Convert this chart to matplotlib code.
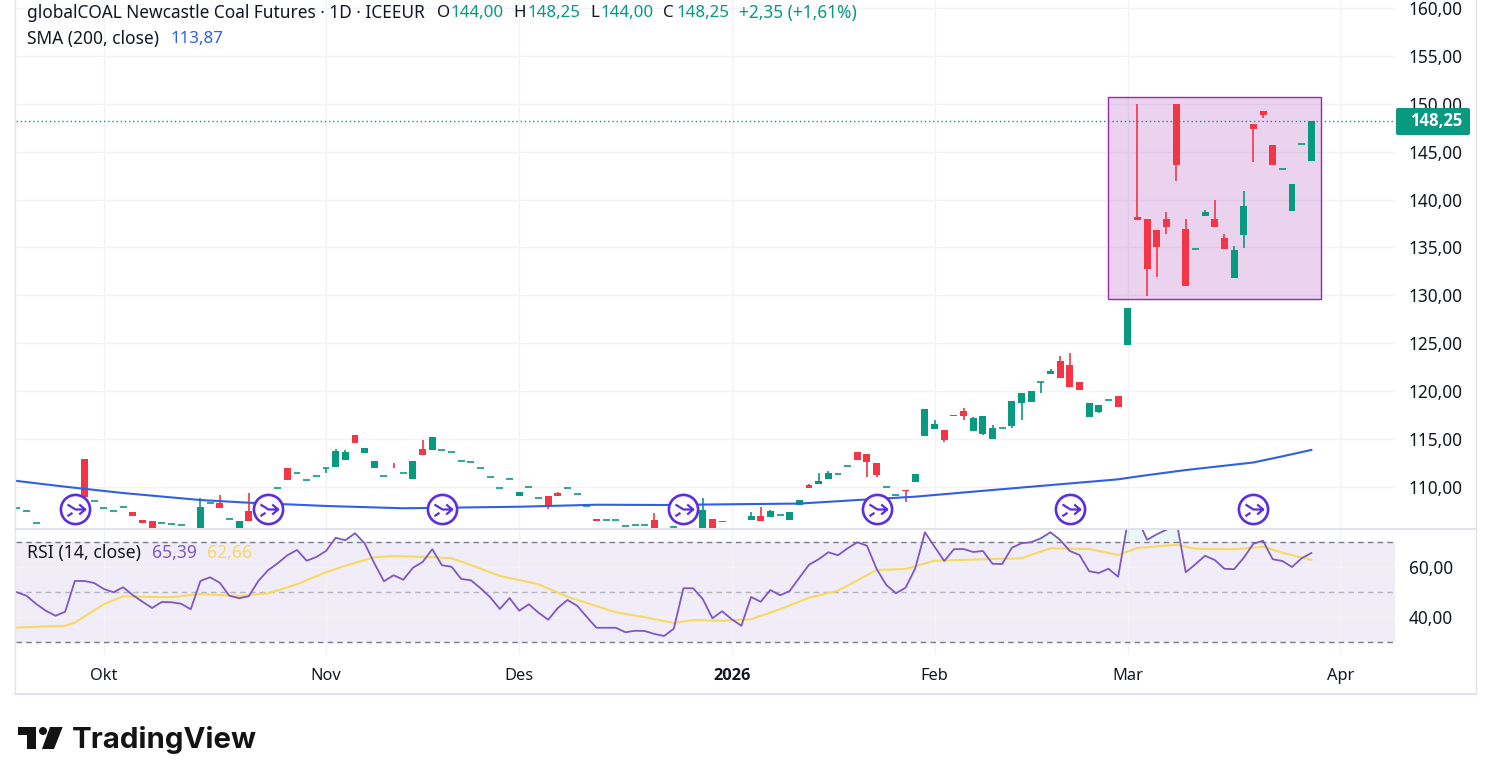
import numpy as np
import matplotlib
matplotlib.use('Agg')
import matplotlib.pyplot as plt
from matplotlib.patches import FancyBboxPatch, Polygon, Rectangle, Circle
from matplotlib.path import Path

plt.rcParams['font.family'] = ['Noto Sans', 'DejaVu Sans']

nan = float('nan')
GREEN = '#089981'
RED = '#f23645'
INK = '#131722'
GRID = '#f2f3f8'
BORDER = '#e0e3eb'
PURPLE = '#7e57c2'
BLUE = '#2f5fe6'
YELLOW = '#f6da63'

# daily bars, gaps are sessions with nothing on screen
opens = [107.78, 107.46, 106.2, nan, nan, nan, nan, 112.9, 108.5, 107.78,
         107.46, 107.9, 107.36, 106.6, 106.4, 106.2, 106.1, 106.0, nan, 105.5,
         108.3, 108.3, 106.65, 105.5, 107.5, nan, nan, 109.9, 112.0, 111.46,
         110.7, 111.2, 111.95, 112.12, 112.85, 115.43, 113.58, 112.0, 111.2, 112.0,
         111.46, 110.85, 113.97, 113.86, 113.83, 113.7, 112.68, 112.58, 111.95, 111.0,
         109.87, 110.8, 109.06, 109.96, 108.9, 109.06, 109.37, 109.87, 109.24, 108.0,
         106.7, 106.52, 106.52, 105.9, 106.0, 106.0, 106.52, nan, 105.8, nan,
         nan, 105.5, 106.66, 106.5, nan, nan, 106.55, 106.97, 106.87, 107.05,
         106.55, 108.16, 110.17, 110.3, 110.85, 111.33, 112.16, 113.65, 113.45, 112.5,
         110.0, 109.13, 109.65, 110.5, 115.32, 116.05, 115.95, 117.5, 117.93, 115.85,
         115.53, 115.0, 116.12, 116.37, 118.8, 118.87, 120.93, 121.8, 123.15, 122.73,
         120.96, 117.3, 117.83, 119.05, 119.5, 124.83, 138.18, 137.97, 136.83, 137.97,
         150.0, 136.93, 134.8, 138.3, 137.97, 136.0, 131.8, 136.3, 147.9, 149.25,
         145.7, 143.16, 138.8, 145.8, 144.0]
highs = [107.78, 107.46, 106.2, nan, nan, nan, nan, 112.9, 108.5, 107.78,
         107.46, 107.9, 107.36, 106.6, 106.4, 106.2, 106.1, 106.0, nan, 108.9,
         108.3, 109.2, 106.65, 106.4, 109.4, nan, nan, 109.9, 112.0, 111.46,
         110.7, 111.2, 111.95, 113.94, 113.9, 115.43, 114.07, 112.68, 111.2, 112.5,
         111.46, 112.7, 114.9, 115.2, 113.83, 113.7, 112.68, 112.58, 111.95, 111.0,
         109.87, 110.8, 109.48, 109.96, 108.9, 109.06, 109.5, 109.87, 109.24, 108.0,
         106.7, 106.52, 106.52, 105.9, 106.0, 106.0, 107.25, nan, 105.8, nan,
         nan, 108.9, 106.66, 106.5, nan, nan, 107.35, 107.87, 107.6, 107.05,
         107.4, 108.63, 110.3, 111.43, 111.67, 111.33, 112.16, 113.65, 113.45, 112.5,
         110.0, 109.13, 109.65, 111.36, 118.14, 117.0, 115.95, 117.5, 118.25, 117.3,
         117.4, 116.47, 116.12, 118.98, 119.8, 120.0, 120.93, 122.3, 123.66, 124.0,
         120.96, 118.77, 118.56, 119.05, 119.5, 128.7, 150.0, 137.97, 136.83, 138.7,
         150.0, 137.97, 134.8, 138.9, 139.96, 136.4, 135.16, 140.9, 147.9, 149.25,
         145.7, 143.16, 141.6, 145.8, 148.25]
lows = [107.78, 107.46, 106.2, nan, nan, nan, nan, 108.95, 108.5, 107.78,
        107.46, 107.9, 107.0, 106.27, 105.75, 106.2, 106.1, 106.0, nan, 105.5,
        108.3, 107.8, 106.65, 105.5, 106.5, nan, nan, 109.9, 110.73, 111.46,
        110.7, 111.2, 111.5, 112.12, 112.85, 114.63, 113.58, 112.0, 111.2, 111.95,
        111.46, 110.85, 113.35, 113.86, 113.83, 113.7, 112.68, 112.58, 111.95, 111.0,
        109.87, 110.8, 109.06, 109.96, 108.9, 107.75, 109.06, 109.87, 109.24, 108.0,
        106.5, 106.52, 106.52, 105.9, 106.0, 106.0, 105.5, nan, 105.8, nan,
        nan, 105.5, 105.5, 106.3, nan, nan, 106.55, 106.45, 106.87, 107.05,
        106.55, 108.16, 109.9, 110.3, 110.85, 111.33, 112.16, 112.8, 111.0, 111.0,
        110.0, 109.13, 108.47, 110.5, 115.32, 116.05, 114.7, 117.45, 117.0, 115.85,
        115.4, 115.0, 116.12, 116.16, 117.0, 118.87, 119.78, 121.8, 121.4, 120.4,
        120.1, 117.3, 117.75, 119.05, 118.35, 124.83, 137.87, 129.97, 131.95, 136.4,
        141.94, 131.0, 134.8, 138.3, 137.14, 134.84, 131.8, 134.95, 143.9, 148.5,
        143.6, 143.16, 138.8, 145.8, 144.0]
closes = [107.78, 107.46, 106.2, nan, nan, nan, nan, 108.95, 108.5, 107.78,
          107.46, 107.9, 107.0, 106.27, 105.75, 106.2, 106.1, 106.0, nan, 107.9,
          108.3, 107.8, 106.65, 106.4, 106.5, nan, nan, 109.9, 110.73, 111.46,
          110.7, 111.2, 111.95, 113.76, 113.65, 114.63, 114.07, 112.68, 111.2, 111.95,
          111.46, 112.7, 113.35, 115.2, 113.83, 113.7, 112.68, 112.58, 111.95, 111.0,
          109.87, 110.8, 109.48, 109.96, 108.9, 108.12, 109.06, 109.87, 109.24, 108.0,
          106.5, 106.52, 106.52, 105.9, 106.0, 106.0, 105.5, nan, 105.8, nan,
          nan, 107.6, 105.5, 106.3, nan, nan, 106.97, 106.45, 107.5, 107.05,
          107.4, 108.63, 109.9, 110.62, 111.43, 111.33, 112.16, 112.8, 112.6, 111.25,
          110.0, 109.13, 109.6, 111.36, 118.14, 116.58, 114.9, 117.45, 117.4, 117.2,
          117.4, 116.16, 116.12, 118.98, 119.8, 120.0, 120.93, 122.1, 121.4, 120.4,
          120.1, 118.77, 118.56, 119.05, 118.35, 128.7, 137.87, 132.76, 135.1, 137.14,
          143.64, 131.0, 134.8, 138.7, 137.14, 134.84, 134.74, 139.3, 147.4, 148.83,
          143.6, 143.16, 141.6, 145.8, 148.25]

sma_bars = [0, 5, 11, 19, 24, 32, 40, 52, 60, 67, 74, 81, 87, 93, 100, 107, 114, 116, 121, 128, 131, 134]
sma_vals = [110.63, 110.03, 109.37, 108.64, 108.36, 108.02, 107.78, 107.94, 108.15, 108.12, 108.2,
            108.27, 108.64, 108.99, 109.6, 110.2, 110.8, 111.1, 111.77, 112.56, 113.2, 113.87]

rsi = [49.7, 48.3, 45.0, 42.3, 40.3, 41.9, 54.2, 54.2, 53.4, 51.0,
       49.7, 51.7, 48.6, 45.9, 43.4, 45.8, 45.7, 45.1, 42.9, 54.2,
       55.7, 53.5, 48.3, 47.3, 48.1, 54.2, 58.5, 61.3, 64.5, 66.6,
       62.3, 63.8, 66.2, 71.5, 70.5, 73.3, 69.3, 61.3, 54.1, 56.5,
       54.7, 59.5, 61.8, 66.9, 60.5, 59.9, 55.0, 54.5, 51.3, 47.7,
       43.0, 47.4, 42.3, 44.9, 41.5, 38.7, 43.4, 46.6, 44.3, 39.8,
       35.5, 35.5, 35.5, 33.7, 34.3, 34.2, 33.0, 32.2, 35.1, 51.3,
       51.3, 47.0, 39.3, 42.1, 38.9, 36.3, 47.8, 45.9, 50.6, 48.5,
       50.2, 55.5, 60.7, 62.9, 65.7, 64.5, 67.3, 69.7, 68.3, 59.0,
       52.6, 49.3, 51.5, 59.3, 73.7, 67.9, 62.2, 66.9, 67.0, 65.8,
       66.2, 61.1, 61.0, 67.5, 69.3, 69.7, 71.3, 73.7, 70.6, 66.2,
       64.6, 58.1, 57.4, 59.1, 55.9, 78.0, 79.0, 70.7, 72.9, 74.7,
       79.0, 57.7, 60.9, 64.3, 62.6, 59.1, 58.9, 63.5, 69.1, 70.3,
       62.9, 62.2, 59.8, 63.3, 65.39]

rsi_ma_bars = [0, 5, 6, 9, 11, 13, 16, 19, 23, 26, 29, 32, 34, 37, 39, 43, 45, 47, 50, 54, 57, 62, 65, 68, 70,
               73, 76, 79, 82, 85, 89, 92, 95, 100, 104, 107, 111, 114, 116, 120, 122, 126, 129, 131, 134]
rsi_ma_vals = [35.6, 36.3, 37.5, 44.9, 48.1, 47.9, 47.7, 49.0, 48.2, 49.3, 52.9, 57.7, 60.3, 63.7, 64.2,
               63.7, 63.3, 60.6, 56.2, 52.9, 47.9, 41.7, 39.7, 37.4, 38.6,
               38.3, 38.9, 42.9, 47.5, 50.3, 58.6, 59.0, 62.3, 62.9, 63.3, 67.3, 67.0, 64.6, 67.4,
               68.7, 67.1, 66.9, 67.9, 65.5, 62.66]

time_bars = [9, 32, 52, 74, 95, 115, 137]
time_labels = ['Okt', 'Nov', 'Des', '2026', 'Feb', 'Mar', 'Apr']
price_ticks = [110, 115, 120, 125, 130, 135, 140, 145, 150, 155, 160]
rsi_ticks = [40, 60]
event_bars = [6, 26, 44, 69, 89, 109, 128]

W, H = 1491, 784
fig = plt.figure(figsize=(W / 100, H / 100), dpi=100)


def pane(x0, y0, x1, y1):
    # axes from pixel corners, y counted from the top
    return fig.add_axes([x0 / W, 1 - y1 / H, (x1 - x0) / W, (y1 - y0) / H])


ax = pane(16, 0, 1395, 528)
ax_rsi = pane(16, 529, 1395, 655)
overlay = pane(0, 0, W, H)
overlay.set_xlim(0, W)
overlay.set_ylim(H, 0)
overlay.axis('off')
overlay.set_zorder(10)

xlim = (-0.09, 142.66)
for a in (ax, ax_rsi):
    a.set_xlim(*xlim)
    a.set_xticks(time_bars)
    a.grid(True, color=GRID, lw=1)
    a.set_axisbelow(True)
    a.yaxis.tick_right()
    for s in a.spines.values():
        s.set_visible(False)

# price pane
ax.set_ylim(105.72, 160.835)
ax.set_yticks(price_ticks)
ax.set_yticklabels(['%d,00' % p for p in price_ticks], fontsize=12.4, color=INK, va='center_baseline')
ax.tick_params(length=0, pad=10, labelbottom=False)

ax.add_patch(Rectangle((113, 129.62), 22, 21.04, facecolor='#9c27b0', alpha=0.2, zorder=1.5, lw=0))
ax.add_patch(Rectangle((113, 129.62), 22, 21.04, fill=False, edgecolor='#9c27b0', lw=1, zorder=1.6))

bars = np.arange(len(closes))
o, h, l, c = np.array(opens), np.array(highs), np.array(lows), np.array(closes)
up = c >= o
colors = np.where(up, GREEN, RED)
ok = ~np.isnan(c)
ax.vlines(bars[ok], l[ok], h[ok], colors=colors[ok], lw=1.2, zorder=3)
solid = ok & (np.abs(c - o) > 0.01)
ax.bar(bars[solid], (c - o)[solid], bottom=o[solid], width=0.72, color=colors[solid], lw=0, zorder=3.1)
flat = ok & ~solid
ax.hlines(c[flat], bars[flat] - 0.36, bars[flat] + 0.36, colors=colors[flat], lw=1.2, zorder=3.1)

ax.plot(sma_bars, sma_vals, color=BLUE, lw=1.5, zorder=3.5)
ax.axhline(closes[-1], color=GREEN, lw=1, ls=(0, (1, 2)), zorder=4)

# event badges with the merge-arrow glyph
glyph = Path([(-8, 5), (0, 0), (9.7, 0), (3.7, 5), (9.7, 0), (3.7, -5), (-8, -6.7), (-3, -3.3)],
             [Path.MOVETO, Path.LINETO, Path.LINETO, Path.MOVETO, Path.LINETO, Path.LINETO,
              Path.MOVETO, Path.LINETO])
badge_y = [107.7] * len(event_bars)
ax.plot(event_bars, badge_y, 'o', ms=21, mfc='white', mec='#5b2ee0', mew=1.9, zorder=5)
ax.plot(event_bars, badge_y, ls='', marker=glyph, ms=14, mfc='none', mec='#5b2ee0', mew=1.6, zorder=5.1)

# RSI pane
ax_rsi.set_ylim(24.6, 75)
ax_rsi.set_yticks(rsi_ticks)
ax_rsi.set_yticklabels(['%d,00' % v for v in rsi_ticks], fontsize=12.4, color=INK, va='center_baseline')
ax_rsi.set_xticklabels(time_labels, fontsize=11.8, color=INK)
ax_rsi.get_xticklabels()[3].set_fontfamily('Open Sans')
ax_rsi.get_xticklabels()[3].set_fontweight('bold')
ax_rsi.tick_params(length=0)
ax_rsi.tick_params(axis='y', pad=10)
ax_rsi.tick_params(axis='x', pad=9)
ax_rsi.axhspan(30, 70, color=PURPLE, alpha=0.1, lw=0, zorder=0.5)
ax_rsi.axhline(70, color='#787b86', lw=1, ls=(0, (4, 3)), zorder=1.5)
ax_rsi.axhline(50, color='#787b86', lw=1, ls=(0, (4, 3)), alpha=0.5, zorder=1.5)
ax_rsi.axhline(30, color='#787b86', lw=1, ls=(0, (4, 3)), zorder=1.5)
rsi_arr = np.array(rsi)
ax_rsi.fill_between(bars, 70, rsi_arr, where=rsi_arr > 70, interpolate=True, color=GREEN, alpha=0.08, lw=0)
ax_rsi.plot(rsi_ma_bars, rsi_ma_vals, color=YELLOW, lw=1.5, zorder=3)
ax_rsi.plot(bars, rsi, color=PURPLE, lw=1.3, zorder=3.2)

# frame and separators
overlay.plot([15, 15], [0, 693], color=BORDER, lw=1)
overlay.plot([1476, 1476], [0, 693], color=BORDER, lw=1)
overlay.plot([15, 1476], [693.5, 693.5], color=BORDER, lw=1.5)
overlay.plot([15, 1476], [528.5, 528.5], color=BORDER, lw=1.4)

# last price tag
overlay.add_patch(FancyBboxPatch((1398, 110), 70, 23, boxstyle='round,pad=2,rounding_size=2',
                                 facecolor=GREEN, edgecolor='none'))
overlay.text(1436, 121, '148,25', color='white', fontsize=12, fontfamily='Open Sans', fontweight='bold',
             ha='center', va='center')


def legend(parts, y):
    for x, txt, col, size in parts:
        overlay.text(x, y, txt, color=col, fontsize=size, ha='left', va='center')


# legend rows
legend([(27, 'globalCOAL Newcastle Coal Futures · 1D · ICEEUR', INK, 12.45), (437, 'O', INK, 12.2),
        (450, '144,00', GREEN, 12.2), (513, 'H', INK, 12.2), (527, '148,25', GREEN, 12.2),
        (590, 'L', INK, 12.2), (600, '144,00', GREEN, 12.2), (663, 'C', INK, 12.2),
        (676, '148,25', GREEN, 12.2), (739, '+2,35 (+1,61%)', GREEN, 12.45)], 13)
legend([(27, 'SMA (200, close)', INK, 12.5), (170, '113,87', BLUE, 12.2)], 39)
legend([(27, 'RSI (14, close)', INK, 12.7), (152, '65,39', PURPLE, 12.6), (207, '62,66', YELLOW, 12.6)], 553)

# logo
LOGO = '#131313'
overlay.add_patch(Polygon([(18, 727), (36, 727), (36, 749), (26.7, 749), (26.7, 735), (18, 735)], color=LOGO, lw=0))
overlay.add_patch(Circle((43, 731), 4, color=LOGO, lw=0))
overlay.add_patch(Polygon([(50, 727), (62.7, 727), (54, 749), (42, 749)], color=LOGO, lw=0))
overlay.text(72, 740.5, 'TradingView', color=LOGO, fontsize=21.2, fontfamily='Inter', fontweight='bold',
             ha='left', va='center')

fig.savefig('out.png', dpi=100)
